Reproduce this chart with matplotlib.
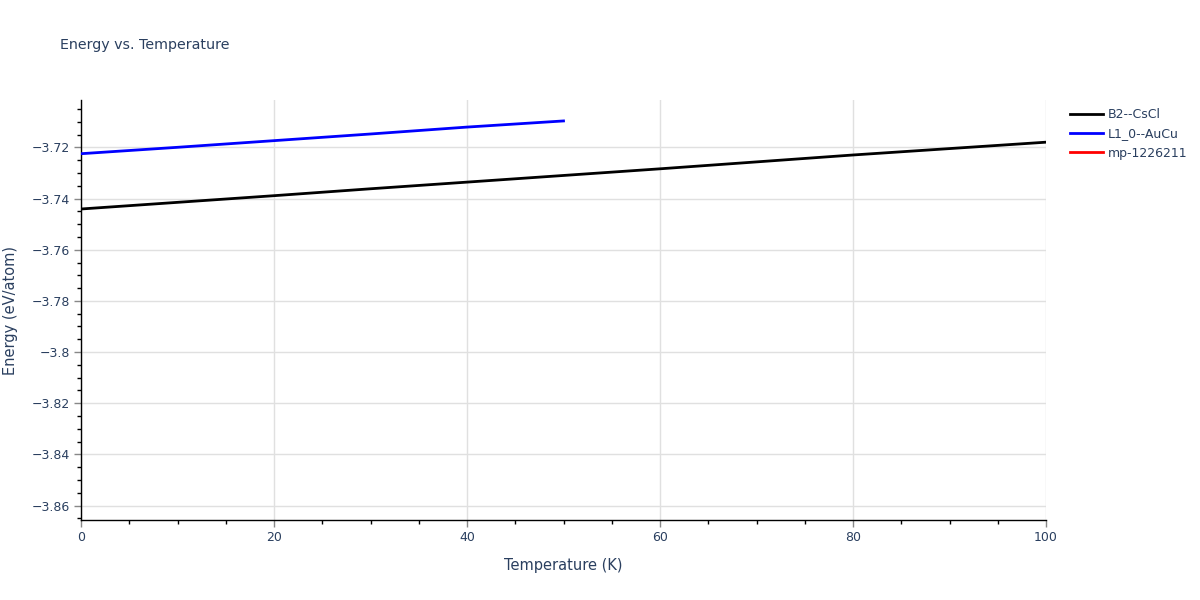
import numpy as np
import matplotlib
matplotlib.use("Agg")
import matplotlib.pyplot as plt
from matplotlib.ticker import MultipleLocator, FuncFormatter

plt.rcParams['font.family'] = ['DejaVu Sans']

# данные
temp_b2 = [0, 10, 20, 30, 40, 50, 60, 70, 80, 90, 100]
energy_b2 = [-3.7441, -3.7415, -3.7389, -3.7362, -3.7336, -3.7310,
             -3.7284, -3.7257, -3.7230, -3.7205, -3.7180]
temp_l10 = [0, 10, 20, 30, 40, 50]
energy_l10 = [-3.7225, -3.7200, -3.7174, -3.7148, -3.7121, -3.7097]
temp_mp = []
energy_mp = []

names = ['B2--CsCl', 'L1_0--AuCu', 'mp-1226211']
colors = ['black', 'blue', 'red']

text_color = '#2a3f5f'
grid_color = '#e0e0e0'

fig = plt.figure(figsize=(12, 6), dpi=100)
ax = fig.add_axes([81/1200, 1 - 520/600, (1046 - 81)/1200, (520 - 100)/600])

series = [(temp_b2, energy_b2), (temp_l10, energy_l10), (temp_mp, energy_mp)]
for (t, e), name, c in zip(series, names, colors):
    ax.plot(t, e, color=c, lw=2, label=name, zorder=3)

ax.set_xlim(0, 100)
ax.set_ylim(-3.86559, -3.70152)

ax.xaxis.set_major_locator(MultipleLocator(20))
ax.xaxis.set_minor_locator(MultipleLocator(5))
ax.yaxis.set_major_locator(MultipleLocator(0.02))
ax.yaxis.set_minor_locator(MultipleLocator(0.005))

def fmt(v, pos):
    s = f"{v:.2f}".rstrip('0').rstrip('.')
    if s in ('-0', ''):
        s = '0'
    return s.replace('-', '\u2212')

ax.xaxis.set_major_formatter(FuncFormatter(fmt))
ax.yaxis.set_major_formatter(FuncFormatter(fmt))

ax.grid(True, which='major', color=grid_color, lw=1, zorder=0)
for side in ['top', 'right']:
    ax.spines[side].set_visible(False)
for side in ['left', 'bottom']:
    ax.spines[side].set_color('black')
    ax.spines[side].set_linewidth(1)

ax.tick_params(which='major', direction='out', length=5, width=1, color='#888888',
               labelsize=9, labelcolor=text_color, pad=3)
ax.tick_params(which='minor', direction='out', length=3, width=1, color='black')

ax.set_xlabel('Temperature (K)', fontsize=10.5, color=text_color, labelpad=10)
ax.set_ylabel('Energy (eV/atom)', fontsize=10.5, color=text_color, labelpad=10)

fig.text(60/1200, 1 - 45/600, 'Energy vs. Temperature', fontsize=10.3,
         color=text_color, va='center', ha='left')

leg = ax.legend(loc='upper left', bbox_to_anchor=(1059/1200, 1 - 97/600),
                bbox_transform=fig.transFigure, frameon=False, fontsize=9,
                handlelength=2.6, handletextpad=0.4, labelspacing=0.5)
for t in leg.get_texts():
    t.set_color(text_color)

fig.savefig('out.png', dpi=100)
